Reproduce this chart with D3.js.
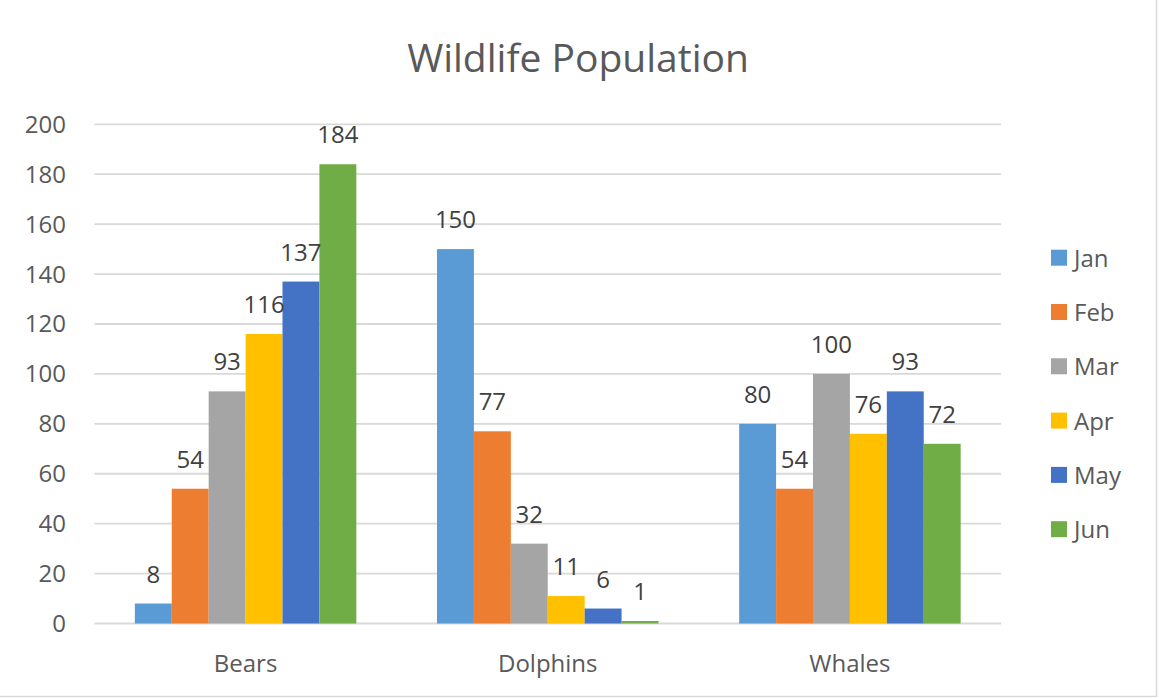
<!DOCTYPE html>
<html>
<head>
<meta charset="utf-8">
<script src="https://cdn.jsdelivr.net/npm/d3@7"></script>
<style>
  html, body { margin: 0; padding: 0; background: #fff; }
  svg { display: block; font-family: "Open Sans", "Noto Sans", sans-serif; }
</style>
</head>
<body>
<div id="chart"></div>
<script>
var categories = ['Bears', 'Dolphins', 'Whales'];
var months = ['Jan', 'Feb', 'Mar', 'Apr', 'May', 'Jun'];
var colors = ['#5B9BD5', '#ED7D31', '#A5A5A5', '#FFC000', '#4472C4', '#70AD47'];
var bearsValues = [8, 54, 93, 116, 137, 184];
var dolphinsValues = [150, 77, 32, 11, 6, 1];
var whalesValues = [80, 54, 100, 76, 93, 72];
var yTicks = [0, 20, 40, 60, 80, 100, 120, 140, 160, 180, 200];

var seriesByCategory = [bearsValues, dolphinsValues, whalesValues];

var width = 1159, height = 698;

var svg = d3.select('#chart').append('svg')
    .attr('width', width)
    .attr('height', height);

// chart frame (only right and bottom edges are visible)
svg.append('line')
    .attr('x1', 1156.5).attr('y1', 0).attr('x2', 1156.5).attr('y2', 697)
    .attr('stroke', '#d9d9d9').attr('stroke-width', 1.5);
svg.append('line')
    .attr('x1', 0).attr('y1', 696.5).attr('x2', 1157).attr('y2', 696.5)
    .attr('stroke', '#d9d9d9').attr('stroke-width', 1.5);

var y = d3.scaleLinear().domain([0, 200]).range([623.5, 124.3]);
var x0 = d3.scaleBand().domain(categories).range([94.5, 1001]).padding(0);
var groupWidth = x0.bandwidth() * 0.733;
var x1 = d3.scaleBand().domain(months).range([0, groupWidth]).padding(0);
var color = d3.scaleOrdinal().domain(months).range(colors);

// title
svg.append('text')
    .attr('x', 578)
    .attr('y', 72)
    .attr('text-anchor', 'middle')
    .attr('fill', '#595959')
    .style('font-size', '39px')
    .text('Wildlife Population');

// gridlines
svg.append('g').selectAll('line')
    .data(yTicks)
    .enter()
    .append('line')
    .attr('x1', 94.5)
    .attr('x2', 1001)
    .attr('y1', function(d) { return y(d); })
    .attr('y2', function(d) { return y(d); })
    .attr('stroke', '#d9d9d9')
    .attr('stroke-width', 1.8);

// y tick labels
svg.append('g').selectAll('text')
    .data(yTicks)
    .enter()
    .append('text')
    .attr('x', 66)
    .attr('y', function(d) { return y(d) + 8.5; })
    .attr('text-anchor', 'end')
    .attr('fill', '#595959')
    .style('font-size', '24px')
    .text(function(d) { return d; });

// bars
var groups = svg.append('g').selectAll('g')
    .data(categories)
    .enter()
    .append('g')
    .attr('transform', function(d) {
        return 'translate(' + (x0(d) + (x0.bandwidth() - groupWidth) / 2) + ',0)';
    });

groups.selectAll('rect')
    .data(function(d, i) {
        return months.map(function(m, j) { return { month: m, value: seriesByCategory[i][j] }; });
    })
    .enter()
    .append('rect')
    .attr('x', function(d) { return x1(d.month); })
    .attr('y', function(d) { return y(d.value); })
    .attr('width', x1.bandwidth())
    .attr('height', function(d) { return y(0) - y(d.value); })
    .attr('fill', function(d) { return color(d.month); });

// data labels
groups.selectAll('text')
    .data(function(d, i) {
        return months.map(function(m, j) { return { month: m, value: seriesByCategory[i][j] }; });
    })
    .enter()
    .append('text')
    .attr('x', function(d) { return x1(d.month) + x1.bandwidth() / 2; })
    .attr('y', function(d) { return y(d.value) - 21; })
    .attr('text-anchor', 'middle')
    .attr('fill', '#404040')
    .style('font-size', '24px')
    .text(function(d) { return d.value; });

// category labels
svg.append('g').selectAll('text')
    .data(categories)
    .enter()
    .append('text')
    .attr('x', function(d) { return x0(d) + x0.bandwidth() / 2; })
    .attr('y', 672)
    .attr('text-anchor', 'middle')
    .attr('fill', '#595959')
    .style('font-size', '24px')
    .text(function(d) { return d; });

// legend
var legend = svg.append('g').selectAll('g')
    .data(months)
    .enter()
    .append('g')
    .attr('transform', function(d, i) { return 'translate(1051,' + (257.7 + i * 54.3) + ')'; });

legend.append('rect')
    .attr('x', 0)
    .attr('y', -8)
    .attr('width', 16)
    .attr('height', 16)
    .attr('fill', function(d) { return color(d); });

legend.append('text')
    .attr('x', 23)
    .attr('y', 9)
    .attr('fill', '#595959')
    .style('font-size', '24px')
    .text(function(d) { return d; });
</script>
</body>
</html>
